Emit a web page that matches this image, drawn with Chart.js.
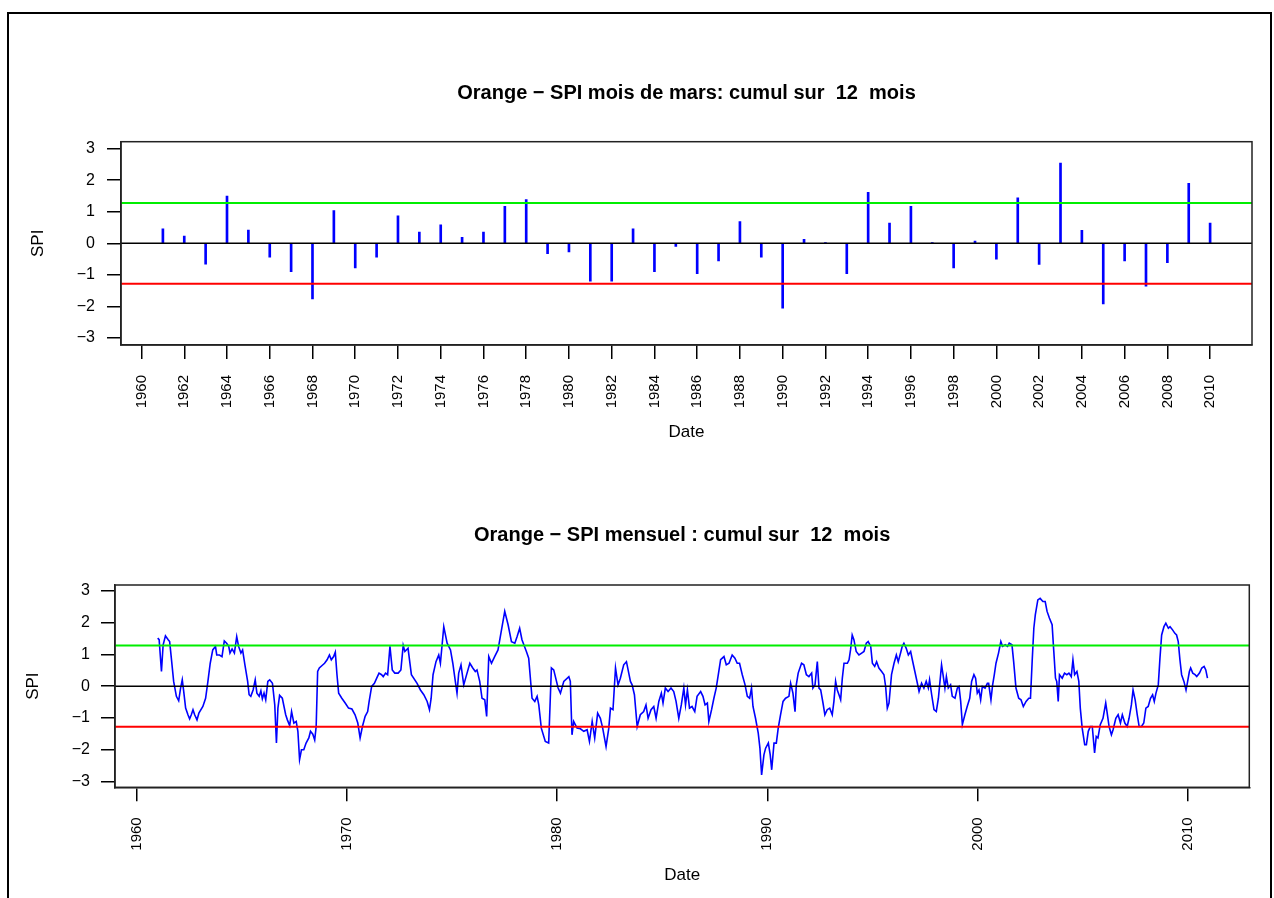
<!DOCTYPE html>
<html lang="fr">
<head>
<meta charset="UTF-8">
<title>Orange - SPI</title>
<script src="https://cdn.jsdelivr.net/npm/chart.js@4"></script>
<style>
  body { margin: 0; background: #fff; width: 1274px; height: 898px; overflow: hidden; position: relative; }
  #frame { position: absolute; left: 7px; top: 12px; width: 1261px; height: 900px; border: 2px solid #000; border-bottom: none; }
  canvas { position: absolute; left: 0; }
  #annualChart { top: 0; }
  #monthlyChart { top: 460px; }
</style>
</head>
<body>
<div id="frame"></div>
<canvas id="annualChart" width="1274" height="460"></canvas>
<canvas id="monthlyChart" width="1274" height="438"></canvas>

<script>
// SPI for March, 12-month accumulation (one value per year)
const annualYears = [1961, 1962, 1963, 1964, 1965, 1966, 1967, 1968, 1969, 1970,
    1971, 1972, 1973, 1974, 1975, 1976, 1977, 1978, 1979, 1980,
    1981, 1982, 1983, 1984, 1985, 1986, 1987, 1988, 1989, 1990,
    1991, 1992, 1993, 1994, 1995, 1996, 1997, 1998, 1999, 2000,
    2001, 2002, 2003, 2004, 2005, 2006, 2007, 2008, 2009, 2010];
const annualSpi = [0.46, 0.23, -0.66, 1.50, 0.42, -0.44, -0.90, -1.76, 1.04, -0.78,
    -0.44, 0.87, 0.36, 0.59, 0.19, 0.36, 1.17, 1.39, -0.33, -0.27,
    -1.20, -1.20, 0.46, -0.90, -0.10, -0.96, -0.56, 0.69, -0.44, -2.05,
    0.13, 0.02, -0.96, 1.62, 0.64, 1.17, 0.01, -0.78, 0.07, -0.50,
    1.44, -0.67, 2.54, 0.41, -1.92, -0.56, -1.36, -0.61, 1.90, 0.64];

// monthly SPI (12-month accumulation), dates as decimal years
const monthDates = [
    1961.00, 1961.07, 1961.18, 1961.26, 1961.37, 1961.50, 1961.57, 1961.65, 1961.76, 1961.89,
    1962.00, 1962.09, 1962.17, 1962.24, 1962.33, 1962.44, 1962.52, 1962.60, 1962.68, 1962.76, 1962.87, 1962.96,
    1963.15, 1963.28, 1963.39, 1963.50, 1963.62, 1963.75, 1963.81, 1963.94,
    1964.06, 1964.17, 1964.28, 1964.38, 1964.44, 1964.54, 1964.65, 1964.76, 1964.85, 1964.96,
    1965.04, 1965.15, 1965.28, 1965.35, 1965.43, 1965.54, 1965.64, 1965.72, 1965.83, 1965.91, 1965.98,
    1966.06, 1966.14, 1966.24, 1966.33, 1966.46, 1966.57, 1966.65, 1966.72, 1966.80, 1966.93,
    1967.01, 1967.09, 1967.17, 1967.28, 1967.37, 1967.48, 1967.59, 1967.67, 1967.75, 1967.84, 1967.95,
    1968.06, 1968.19, 1968.27, 1968.38, 1968.47, 1968.54, 1968.61, 1968.69, 1968.82, 1968.94,
    1969.06, 1969.17, 1969.26, 1969.37, 1969.45, 1969.53, 1969.61, 1969.76, 1969.92,
    1970.08, 1970.24, 1970.39, 1970.52, 1970.63, 1970.74, 1970.87, 1970.99,
    1971.06, 1971.18, 1971.31, 1971.42, 1971.53, 1971.65, 1971.73, 1971.84, 1971.94,
    1972.05, 1972.16, 1972.28, 1972.44, 1972.57, 1972.68, 1972.76, 1972.91,
    1973.07, 1973.34, 1973.50, 1973.66, 1973.82, 1973.93,
    1974.01, 1974.10, 1974.24, 1974.37, 1974.45, 1974.61, 1974.77, 1974.93,
    1975.04, 1975.16, 1975.24, 1975.32, 1975.43, 1975.56, 1975.67, 1975.85, 1975.99,
    1976.11, 1976.19, 1976.32, 1976.43, 1976.56, 1976.65, 1976.75, 1976.88,
    1977.03, 1977.19, 1977.30, 1977.51, 1977.67, 1977.83, 1977.99,
    1978.10, 1978.22, 1978.33, 1978.54, 1978.65, 1978.81, 1978.94,
    1979.05, 1979.13, 1979.25, 1979.44, 1979.60, 1979.73, 1979.84,
    1980.05, 1980.16, 1980.32, 1980.56, 1980.63, 1980.71, 1980.79, 1980.95,
    1981.11, 1981.27, 1981.43, 1981.54, 1981.67, 1981.79, 1981.93,
    1982.06, 1982.17, 1982.33, 1982.46, 1982.54, 1982.66, 1982.78, 1982.90,
    1983.01, 1983.17, 1983.30, 1983.49, 1983.57, 1983.68, 1983.81, 1983.96,
    1984.12, 1984.23, 1984.33, 1984.47, 1984.60, 1984.71, 1984.84, 1984.96,
    1985.04, 1985.15, 1985.28, 1985.42, 1985.55, 1985.66, 1985.79, 1985.91,
    1986.03, 1986.11, 1986.20, 1986.30, 1986.42, 1986.55, 1986.66, 1986.83, 1986.94,
    1987.04, 1987.15, 1987.22, 1987.35, 1987.46, 1987.57, 1987.67, 1987.78, 1987.94,
    1988.05, 1988.18, 1988.33, 1988.46, 1988.57, 1988.68, 1988.81, 1988.94,
    1989.05, 1989.16, 1989.25, 1989.32, 1989.44, 1989.57, 1989.65, 1989.73, 1989.84, 1989.92,
    1990.05, 1990.14, 1990.21, 1990.32, 1990.43, 1990.52, 1990.63, 1990.75, 1990.87,
    1991.03, 1991.11, 1991.22, 1991.32, 1991.38, 1991.47, 1991.63, 1991.74, 1991.86, 1991.98,
    1992.11, 1992.17, 1992.27, 1992.38, 1992.46, 1992.54, 1992.65, 1992.74, 1992.85, 1992.97,
    1993.09, 1993.17, 1993.25, 1993.33, 1993.41, 1993.49, 1993.57, 1993.65, 1993.81, 1993.89, 1993.96,
    1994.04, 1994.12, 1994.23, 1994.36, 1994.49, 1994.60, 1994.71, 1994.80, 1994.92,
    1995.00, 1995.11, 1995.20, 1995.31, 1995.44, 1995.55, 1995.63, 1995.71, 1995.79, 1995.91,
    1996.03, 1996.14, 1996.23, 1996.34, 1996.42, 1996.50, 1996.61, 1996.71, 1996.82, 1996.90,
    1997.02, 1997.14, 1997.22, 1997.34, 1997.45, 1997.56, 1997.66, 1997.72, 1997.82, 1997.93,
    1998.04, 1998.14, 1998.20, 1998.29, 1998.36, 1998.45, 1998.52, 1998.61, 1998.72, 1998.80, 1998.93,
    1999.04, 1999.12, 1999.20, 1999.28, 1999.40, 1999.51, 1999.63, 1999.72, 1999.83, 1999.91, 1999.99,
    2000.07, 2000.15, 2000.23, 2000.36, 2000.47, 2000.53, 2000.64, 2000.72, 2000.80, 2000.88,
    2001.00, 2001.11, 2001.19, 2001.32, 2001.43, 2001.51, 2001.64, 2001.72, 2001.83, 2001.96,
    2002.07, 2002.18, 2002.31, 2002.44, 2002.52, 2002.60, 2002.68, 2002.75, 2002.87, 2002.98,
    2003.11, 2003.22, 2003.31, 2003.42, 2003.55, 2003.63, 2003.71, 2003.77, 2003.84, 2003.90,
    2004.03, 2004.14, 2004.25, 2004.35, 2004.46, 2004.54, 2004.62, 2004.73, 2004.82, 2004.89, 2004.98,
    2005.10, 2005.18, 2005.27, 2005.37, 2005.46, 2005.57, 2005.65, 2005.73, 2005.84, 2005.97,
    2006.10, 2006.16, 2006.26, 2006.37, 2006.45, 2006.58, 2006.69, 2006.80, 2006.89,
    2007.01, 2007.12, 2007.21, 2007.32, 2007.40, 2007.50, 2007.60, 2007.69, 2007.80, 2007.91,
    2008.01, 2008.12, 2008.23, 2008.33, 2008.41, 2008.49, 2008.60, 2008.68, 2008.76, 2008.87, 2008.96,
    2009.08, 2009.16, 2009.28, 2009.39, 2009.47, 2009.55, 2009.63, 2009.71, 2009.82, 2009.92, 2009.98,
    2010.08, 2010.14, 2010.24, 2010.35, 2010.43, 2010.56, 2010.67, 2010.78, 2010.86, 2010.94
];
const monthSpi = [
    1.51, 1.46, 0.46, 1.30, 1.58, 1.46, 1.40, 0.88, 0.15, -0.32,
    -0.46, -0.06, 0.20, -0.17, -0.69, -0.90, -1.03, -0.90, -0.74, -0.90, -1.06, -0.85,
    -0.64, -0.38, 0.15, 0.72, 1.14, 1.25, 0.98, 0.98,
    0.93, 1.42, 1.35, 1.25, 1.04, 1.17, 1.04, 1.56, 1.25, 1.04,
    1.14, 0.67, 0.15, -0.27, -0.32, -0.12, 0.20, -0.22, -0.32, -0.15, -0.40,
    -0.22, -0.43, 0.15, 0.20, 0.09, -0.59, -1.79, -0.69, -0.29, -0.38,
    -0.64, -0.90, -1.06, -1.24, -0.80, -1.16, -1.11, -1.42, -2.31, -2.00, -2.00,
    -1.79, -1.63, -1.42, -1.51, -1.69, -1.27, 0.46, 0.57, 0.65, 0.72,
    0.83, 0.98, 0.83, 0.93, 1.07, 0.36, -0.22, -0.38, -0.53,
    -0.69, -0.72, -0.90, -1.16, -1.63, -1.27, -0.95, -0.80,
    -0.48, -0.01, 0.09, 0.25, 0.41, 0.36, 0.30, 0.41, 0.36,
    1.25, 0.51, 0.41, 0.41, 0.51, 1.28, 1.09, 1.19,
    0.36, 0.09, -0.12, -0.27, -0.48, -0.74,
    -0.38, 0.36, 0.77, 0.98, 0.72, 1.87, 1.35, 1.14,
    0.72, 0.15, -0.22, 0.41, 0.67, 0.04, 0.30, 0.72, 0.57,
    0.46, 0.51, 0.15, -0.38, -0.43, -0.95, 0.93, 0.72,
    0.93, 1.14, 1.56, 2.35, 1.93, 1.40, 1.35,
    1.56, 1.82, 1.46, 1.09, 0.88, -0.38, -0.48,
    -0.32, -0.59, -1.32, -1.74, -1.79, 0.57, 0.51,
    -0.06, -0.22, 0.15, 0.30, 0.15, -1.53, -1.11, -1.32,
    -1.34, -1.42, -1.37, -1.74, -1.11, -1.63, -0.85,
    -1.01, -1.32, -1.90, -1.32, -0.69, -0.74, 0.57, 0.04,
    0.25, 0.67, 0.77, 0.15, 0.04, -0.27, -1.27, -0.90,
    -0.80, -0.59, -1.01, -0.74, -0.64, -1.01, -0.48, -0.22,
    -0.53, -0.06, -0.17, -0.06, -0.17, -0.48, -1.01, -0.59,
    -0.06, -0.59, -0.12, -0.69, -0.64, -0.80, -0.32, -0.17, -0.32,
    -0.59, -0.53, -1.11, -0.74, -0.38, -0.06, 0.36, 0.83, 0.93,
    0.67, 0.72, 0.98, 0.88, 0.72, 0.72, 0.36, 0.05,
    -0.32, -0.38, -0.06, -0.64, -1.01, -1.48, -1.95, -2.79, -2.16, -1.95,
    -1.79, -2.16, -2.63, -1.79, -1.79, -1.32, -0.90, -0.48, -0.38,
    -0.32, 0.09, -0.22, -0.80, 0.04, 0.41, 0.72, 0.67, 0.36, 0.30,
    0.41, -0.06, 0.04, 0.77, -0.06, -0.12, -0.53, -0.90, -0.74, -0.69,
    -0.90, -0.48, 0.15, -0.12, -0.27, -0.43, 0.25, 0.72, 0.72, 0.83, 1.14,
    1.61, 1.46, 1.09, 0.98, 1.04, 1.09, 1.35, 1.40, 1.25,
    0.72, 0.62, 0.77, 0.57, 0.46, 0.36, -0.01, -0.69, -0.53, 0.36,
    0.72, 0.98, 0.77, 1.04, 1.25, 1.35, 1.19, 0.98, 1.09, 0.83,
    0.46, 0.09, -0.17, 0.09, -0.06, 0.15, -0.06, 0.20, -0.27, -0.74,
    -0.80, -0.38, 0.04, 0.67, 0.36, -0.06, 0.30, -0.06, 0.04, -0.32, -0.38,
    -0.06, -0.01, -0.48, -1.21, -0.90, -0.64, -0.38, 0.15, 0.36, 0.25, -0.22,
    -0.12, -0.43, -0.01, -0.06, 0.09, 0.09, -0.43, 0.04, 0.36, 0.72,
    1.04, 1.40, 1.25, 1.30, 1.25, 1.35, 1.30, 0.77, -0.06, -0.38,
    -0.43, -0.64, -0.48, -0.38, -0.38, 0.77, 1.82, 2.24, 2.71, 2.76,
    2.66, 2.66, 2.35, 2.14, 1.93, 1.09, 0.25, 0.15, -0.48, 0.36,
    0.25, 0.41, 0.36, 0.41, 0.30, 0.83, 0.36, 0.46, 0.15, -0.69, -1.32,
    -1.84, -1.84, -1.42, -1.27, -1.27, -2.10, -1.58, -1.63, -1.21, -1.01,
    -0.53, -0.80, -1.27, -1.53, -1.37, -1.01, -0.90, -1.16, -0.90,
    -1.16, -1.27, -1.01, -0.59, -0.12, -0.43, -0.90, -1.27, -1.27, -1.16,
    -0.69, -0.64, -0.38, -0.27, -0.48, -0.22, 0.04, 0.88, 1.61, 1.87, 1.98,
    1.82, 1.87, 1.77, 1.66, 1.61, 1.40, 0.83, 0.36, 0.15, -0.12, 0.09,
    0.46, 0.57, 0.41, 0.36, 0.30, 0.41, 0.57, 0.62, 0.51, 0.25
];

const wetLimit = 1.28;
const dryLimit = -1.28;
const spiTicks = [-3, -2, -1, 0, 1, 2, 3];
const annualDateTicks = [1960, 1962, 1964, 1966, 1968, 1970, 1972, 1974, 1976, 1978, 1980, 1982, 1984,
    1986, 1988, 1990, 1992, 1994, 1996, 1998, 2000, 2002, 2004, 2006, 2008, 2010];
const monthlyDateTicks = [1960, 1970, 1980, 1990, 2000, 2010];

Chart.defaults.font.family = "'Liberation Sans', Arial, Helvetica, sans-serif";
Chart.defaults.color = '#000';

// draws the R-style box around the plot region
const plotBox = {
    id: 'plotBox',
    afterDraw(chart) {
        const { ctx, chartArea: a } = chart;
        ctx.save();
        ctx.strokeStyle = '#222';
        ctx.lineWidth = 1.5;
        ctx.strokeRect(a.left, a.top, a.right - a.left, a.bottom - a.top);
        ctx.restore();
    }
};

function minusLabel(v) {
    return v < 0 ? '\u2212' + Math.abs(v) : String(v);
}

function hLine(y, color, width, xMin, xMax) {
    return {
        type: 'line',
        data: [{ x: xMin, y: y }, { x: xMax, y: y }],
        borderColor: color,
        borderWidth: width,
        pointRadius: 0,
        order: 0
    };
}

function spiOptions(c) {
    return {
        responsive: false,
        animation: false,
        layout: { padding: { left: 0, right: c.padRight, top: 0, bottom: c.padBottom } },
        plugins: {
            legend: { display: false },
            tooltip: { enabled: false },
            title: {
                display: true,
                fullSize: false,
                text: c.title,
                color: '#000',
                font: { size: 20, weight: 'bold' },
                padding: { top: c.titleTop, bottom: c.titleBottom }
            }
        },
        scales: {
            x: {
                type: 'linear',
                min: c.xMin,
                max: c.xMax,
                offset: false,
                afterBuildTicks: s => { s.ticks = c.xTicks.map(v => ({ value: v })); },
                afterFit: s => { s.height = 100; },
                ticks: {
                    autoSkip: false, minRotation: 90, maxRotation: 90, padding: c.xTickPad,
                    color: '#000', font: { size: 15 }, callback: v => String(v)
                },
                grid: { drawOnChartArea: false, drawTicks: true, tickLength: 14, color: '#000', lineWidth: 1.5, offset: false },
                border: { display: true, color: '#222', width: 1.5 },
                title: { display: true, text: 'Date', color: '#000', font: { size: 17 }, padding: { top: 0, bottom: c.dateBottom } }
            },
            y: {
                min: -c.yLim,
                max: c.yLim,
                afterBuildTicks: s => { s.ticks = spiTicks.map(v => ({ value: v })); },
                afterFit: s => { s.width = c.yWidth; },
                ticks: { padding: c.yTickPad, color: '#000', font: { size: 16 }, callback: minusLabel },
                grid: { drawOnChartArea: false, drawTicks: true, tickLength: 14, color: '#000', lineWidth: 1.5 },
                border: { display: true, color: '#222', width: 1.5 },
                title: { display: true, text: 'SPI', color: '#000', font: { size: 17 }, padding: { top: c.spiLeft, bottom: 0 } }
            }
        }
    };
}

// top: March SPI as vertical spikes
const topCfg = {
    title: 'Orange \u2212 SPI mois de mars: cumul sur  12  mois',
    xMin: 1959.04, xMax: 2011.96, xTicks: annualDateTicks, yLim: 3.22,
    padRight: 22, padBottom: 15, titleTop: 81, titleBottom: 36.7,
    yWidth: 121, xTickPad: 16, yTickPad: 12, dateBottom: 2, spiLeft: 28
};
new Chart(document.getElementById('annualChart'), {
    type: 'bar',
    data: {
        datasets: [
            hLine(wetLimit, '#00ee00', 2, topCfg.xMin, topCfg.xMax),
            hLine(dryLimit, '#ff0000', 2, topCfg.xMin, topCfg.xMax),
            hLine(0, '#000', 1.5, topCfg.xMin, topCfg.xMax),
            {
                type: 'bar',
                data: annualYears.map((yr, i) => ({ x: yr, y: annualSpi[i] })),
                backgroundColor: '#0000ff',
                barThickness: 2,
                order: 1
            }
        ]
    },
    options: spiOptions(topCfg),
    plugins: [plotBox]
});

// bottom: monthly SPI series
const botCfg = {
    title: 'Orange \u2212 SPI mensuel : cumul sur  12  mois',
    xMin: 1958.97, xMax: 2012.93, xTicks: monthlyDateTicks, yLim: 3.18,
    padRight: 24.7, padBottom: 10.7, titleTop: 63, titleBottom: 38,
    yWidth: 115, xTickPad: 16, yTickPad: 11, dateBottom: 2, spiLeft: 23
};
new Chart(document.getElementById('monthlyChart'), {
    type: 'line',
    data: {
        datasets: [
            hLine(wetLimit, '#00ee00', 2, botCfg.xMin, botCfg.xMax),
            hLine(dryLimit, '#ff0000', 2, botCfg.xMin, botCfg.xMax),
            hLine(0, '#000', 1.5, botCfg.xMin, botCfg.xMax),
            {
                data: monthDates.map((d, i) => ({ x: d, y: monthSpi[i] })),
                borderColor: '#0000ff',
                borderWidth: 1.6,
                pointRadius: 0,
                tension: 0,
                order: 1
            }
        ]
    },
    options: spiOptions(botCfg),
    plugins: [plotBox]
});
</script>
</body>
</html>
